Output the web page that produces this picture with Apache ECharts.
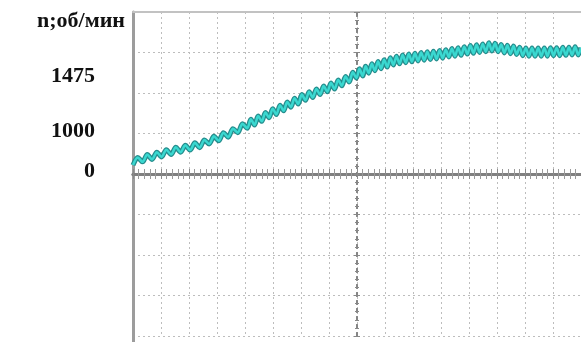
<!DOCTYPE html>
<html><head><meta charset="utf-8">
<script src="https://cdn.jsdelivr.net/npm/echarts@6/dist/echarts.min.js"></script>
<style>html,body{margin:0;padding:0;background:#fff}#c{width:581px;height:342px}</style>
</head><body><div id="c"></div>
<script>
// oscilloscope time, in screen divisions (0 = centre line)
const timeDiv = [-8.00,-7.83,-7.66,-7.49,-7.32,-7.15,-6.98,-6.81,-6.64,-6.47,-6.30,-6.13,-5.96,-5.79,-5.62,-5.45,-5.28,-5.11,-4.94,-4.77,-4.60,-4.43,-4.26,-4.09,-3.92,
-3.79,-3.66,-3.53,-3.40,-3.27,-3.14,-3.01,-2.88,-2.75,-2.62,-2.49,-2.36,-2.23,-2.10,-1.97,-1.84,-1.71,-1.58,-1.45,-1.32,-1.19,-1.06,-0.93,-0.80,-0.67,-0.54,-0.41,-0.28,-0.15,-0.02,
0.09,0.20,0.31,0.42,0.53,0.64,0.75,0.86,0.97,1.08,1.19,1.30,1.41,1.52,1.63,1.74,1.85,1.96,2.07,2.18,2.29,2.40,2.51,2.62,2.73,2.84,2.95,3.06,3.17,3.28,3.39,3.50,3.61,3.72,3.83,3.94,4.05,4.16,4.27,4.38,4.49,4.60,4.71,4.82,4.93,5.04,5.15,5.26,5.37,5.48,5.59,5.70,5.81,5.92,6.03,6.14,6.25,6.36,6.47,6.58,6.69,6.80,6.91,7.02,7.13,7.24,7.35,7.46,7.57,7.68,7.79,7.90,8.00];
// speed trace, in screen divisions above the zero line
const speedDiv = [0.22,0.41,0.30,0.48,0.36,0.54,0.42,0.60,0.48,0.66,0.54,0.71,0.59,0.77,0.65,0.84,0.74,0.93,0.82,1.02,0.91,1.12,1.02,1.24,1.13,
1.35,1.21,1.43,1.30,1.52,1.39,1.61,1.47,1.70,1.56,1.78,1.65,1.87,1.73,1.96,1.82,2.03,1.89,2.10,1.96,2.17,2.03,2.25,2.10,2.32,2.18,2.41,2.27,2.51,2.37,
2.60,2.42,2.66,2.49,2.72,2.55,2.78,2.60,2.82,2.64,2.87,2.69,2.91,2.72,2.94,2.75,2.96,2.77,2.98,2.79,3.00,2.81,3.02,2.83,3.03,2.84,3.05,2.86,3.07,2.89,3.10,2.91,3.12,2.93,3.14,2.96,3.17,2.98,3.19,3.00,3.21,3.02,3.24,3.04,3.23,3.02,3.20,2.99,3.18,2.97,3.16,2.95,3.13,2.92,3.11,2.91,3.11,2.91,3.11,2.91,3.11,2.91,3.12,2.92,3.12,2.92,3.13,2.93,3.13,2.94,3.14,2.94,3.12];
const yTickLabels = ['1475', '1000', '0'];
const yTickPos = [2.395, 1.012, 0];
const yTitle = 'n;об/мин';

const pts = timeDiv.map((t, i) => [t, speedDiv[i]]);
const serif = '"Liberation Serif","Times New Roman",serif';
const chart = echarts.init(document.getElementById('c'), null, {renderer: 'canvas'});
const gridLine = {show: true, lineStyle: {color: '#bdbdbd', width: 1, type: [2, 3]}};
chart.setOption({
  animation: false,
  backgroundColor: '#fff',
  title: {text: yTitle, left: 32, top: 5, textStyle: {fontFamily: serif, fontWeight: 'bold', fontSize: 22, color: '#111'}},
  grid: [
    {left: 133, right: -5, top: 12, bottom: 6},
    {left: 133, right: -5, top: 12, bottom: -5}
  ],
  xAxis: [
    {type: 'value', gridIndex: 0, min: -8, max: 8, interval: 1, position: 'bottom',
     axisLine: {onZero: true, onZeroAxisIndex: 0, lineStyle: {color: '#808080', width: 3}},
     axisTick: {show: true, length: 5, lineStyle: {color: '#8a8a8a'}},
     minorTick: {show: true, splitNumber: 5, length: 5, lineStyle: {color: '#9a9a9a'}},
     axisLabel: {show: false}, splitLine: gridLine},
    {type: 'value', gridIndex: 0, min: -8, max: 8, interval: 1, position: 'top',
     axisLine: {onZero: true, onZeroAxisIndex: 0, lineStyle: {color: '#808080', width: 3}},
     axisTick: {show: true, length: 5, lineStyle: {color: '#8a8a8a'}},
     minorTick: {show: true, splitNumber: 5, length: 5, lineStyle: {color: '#9a9a9a'}},
     axisLabel: {show: false}, splitLine: {show: false}},
    {type: 'value', gridIndex: 1, min: -8, max: 8, position: 'top',
     axisLine: {onZero: false, lineStyle: {color: '#c2c2c2', width: 2}},
     axisTick: {show: false}, axisLabel: {show: false}, splitLine: {show: false}}
  ],
  yAxis: [
    {type: 'value', gridIndex: 0, min: -4, max: 4, interval: 1, position: 'left',
     axisLine: {onZero: true, onZeroAxisIndex: 0, lineStyle: {color: '#858585', width: 2, type: [3, 5]}},
     axisTick: {show: true, length: 3, lineStyle: {color: '#888'}},
     minorTick: {show: true, splitNumber: 5, length: 2, lineStyle: {color: '#888'}},
     axisLabel: {show: false}, splitLine: gridLine},
    {type: 'value', gridIndex: 0, min: -4, max: 4, interval: 1, position: 'right',
     axisLine: {onZero: true, onZeroAxisIndex: 0, lineStyle: {color: '#858585', width: 2, type: [3, 5]}},
     axisTick: {show: true, length: 3, lineStyle: {color: '#888'}},
     minorTick: {show: true, splitNumber: 5, length: 2, lineStyle: {color: '#888'}},
     axisLabel: {show: false}, splitLine: {show: false}},
    {type: 'value', gridIndex: 1, min: -4.27, max: 4, position: 'left',
     axisLine: {onZero: false, lineStyle: {color: '#9c9c9c', width: 3}},
     axisTick: {show: false}, splitLine: {show: false},
     axisLabel: {show: true, customValues: yTickPos, margin: 38, align: 'right',
       fontFamily: serif, fontWeight: 'bold', fontSize: 22, color: '#111',
       formatter: v => { const i = yTickPos.indexOf(v); return i >= 0 ? yTickLabels[i] : ''; }}}
  ],
  series: [
    {type: 'line', xAxisIndex: 0, yAxisIndex: 0, data: pts, showSymbol: false, smooth: 0.3,
     lineStyle: {color: '#258d8d', width: 5}, z: 3},
    {type: 'line', xAxisIndex: 0, yAxisIndex: 0, data: pts, showSymbol: false, smooth: 0.3,
     lineStyle: {color: '#3ad8d0', width: 2.5}, z: 4}
  ]
});
</script>
</body></html>
